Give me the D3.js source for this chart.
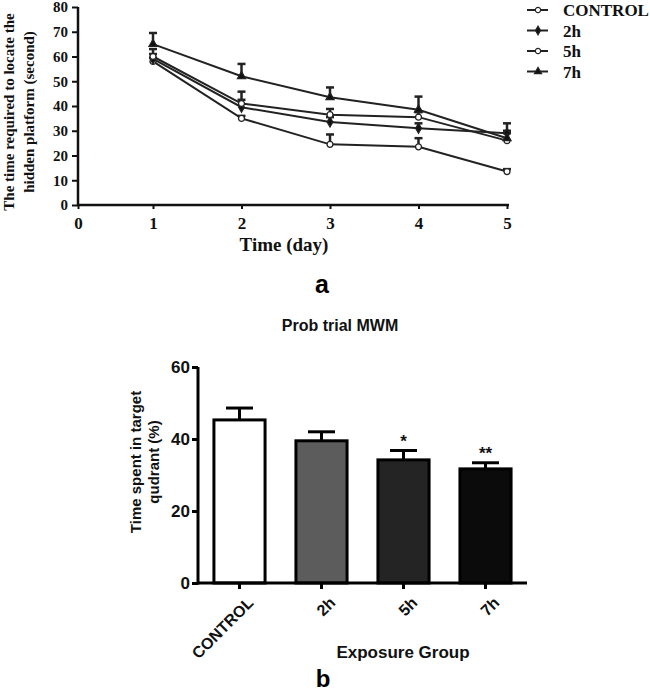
<!DOCTYPE html>
<html><head><meta charset="utf-8">
<script src="https://cdn.jsdelivr.net/npm/d3@7"></script>
<style>body{margin:0;background:#fff}svg{display:block}</style>
</head><body>
<script>
// ---- Data: panel a (learning curve) ----
const days = [1, 2, 3, 4, 5];
const xTicksA = [0, 1, 2, 3, 4, 5];
const yTicksA = [0, 10, 20, 30, 40, 50, 60, 70, 80];
const seriesNames = ["CONTROL", "2h", "5h", "7h"];
const controlVals = [58, 35, 24.5, 23.5, 13.5];
const h2Vals = [59, 39.5, 33.5, 31, 29];
const h5Vals = [60, 41, 36.5, 35.5, 26];
const h7Vals = [65, 52, 43.5, 38.5, 27];
const controlErr = [1.5, 1, 4, 3.5, 1];
const h2Err = [2, 3, 2, 2, 4];
const h5Err = [3, 4.8, 2.3, 2, 3];
const h7Err = [4.5, 5, 4, 5.3, 3];

// ---- Data: panel b (probe trial) ----
const groups = ["CONTROL", "2h", "5h", "7h"];
const probeVals = [45.3, 39.5, 34.2, 31.7];
const probeErr = [3.3, 2.5, 2.6, 1.7];
const probeSig = ["", "", "*", "**"];
const yTicksB = [0, 20, 40, 60];

const W = 650, H = 693;
const svg = d3.select("body").append("svg").attr("width", W).attr("height", H);
const serif = "'Liberation Serif','Times New Roman',serif";
const sans = "'Liberation Sans',Arial,sans-serif";

// ================= Panel a =================
const xA = d3.scaleLinear().domain([0, 1, 5]).range([78, 153, 507]);
const yA = d3.scaleLinear().domain([0, 80]).range([205, 7]);
const gA = svg.append("g");

// axes
const yAxisA = d3.axisLeft(yA).tickValues(yTicksA).tickSize(6).tickPadding(4);
const gyA = gA.append("g").attr("transform", `translate(${xA(0)},0)`).call(yAxisA);
gyA.select(".domain").attr("stroke", "#111").attr("stroke-width", 2.5).attr("d", `M0,${yA(0)}V${yA(80)}`);
gyA.selectAll(".tick line").attr("stroke", "#111").attr("stroke-width", 2);
gyA.selectAll(".tick text").attr("font-family", serif).attr("font-weight", "bold").attr("font-size", 15).attr("fill", "#111");

const xAxisA = d3.axisBottom(xA).tickValues(xTicksA).tickSize(4).tickPadding(8).tickFormat(d3.format("d"));
const gxA = gA.append("g").attr("transform", `translate(0,${yA(0)})`).call(xAxisA);
gxA.select(".domain").attr("stroke", "#111").attr("stroke-width", 2.5).attr("d", `M${xA(0)},0H${xA(5) + 2}`);
gxA.selectAll(".tick line").attr("stroke", "#111").attr("stroke-width", 2);
gxA.selectAll(".tick text").attr("font-family", serif).attr("font-weight", "bold").attr("font-size", 17).attr("fill", "#111");

// axis labels
gA.append("text").attr("transform", `translate(14,112) rotate(-90)`).attr("text-anchor", "middle")
  .attr("font-family", serif).attr("font-weight", "bold").attr("font-size", 15).attr("fill", "#111")
  .text("The time required to locate the");
gA.append("text").attr("transform", `translate(34,112) rotate(-90)`).attr("text-anchor", "middle")
  .attr("font-family", serif).attr("font-weight", "bold").attr("font-size", 15).attr("fill", "#111")
  .text("hidden platform (second)");
gA.append("text").attr("x", 284).attr("y", 251).attr("text-anchor", "middle")
  .attr("font-family", serif).attr("font-weight", "bold").attr("font-size", 19).attr("fill", "#111")
  .text("Time (day)");

const seriesA = [
  {name: "CONTROL", vals: controlVals, err: controlErr, sym: d3.symbolCircle, fill: "#fff"},
  {name: "2h", vals: h2Vals, err: h2Err, sym: d3.symbolDiamond, fill: "#111"},
  {name: "5h", vals: h5Vals, err: h5Err, sym: d3.symbolCircle, fill: "#fff"},
  {name: "7h", vals: h7Vals, err: h7Err, sym: d3.symbolTriangle, fill: "#111"}
];
const line = d3.line().x((d, i) => xA(days[i])).y(d => yA(d));
const lineCol = "#222";

seriesA.forEach(s => {
  gA.append("path").attr("d", line(s.vals)).attr("fill", "none").attr("stroke", lineCol).attr("stroke-width", 2);
});
seriesA.forEach(s => {
  const eg = gA.append("g");
  s.vals.forEach((v, i) => {
    const x = xA(days[i]);
    eg.append("line").attr("x1", x).attr("x2", x).attr("y1", yA(v)).attr("y2", yA(v + s.err[i]))
      .attr("stroke", lineCol).attr("stroke-width", 2.5);
    eg.append("line").attr("x1", x - 4).attr("x2", x + 4).attr("y1", yA(v + s.err[i])).attr("y2", yA(v + s.err[i]))
      .attr("stroke", lineCol).attr("stroke-width", 2.5);
  });
});
seriesA.forEach(s => {
  s.vals.forEach((v, i) => {
    gA.append("path").attr("d", d3.symbol(s.sym, 28)())
      .attr("transform", `translate(${xA(days[i])},${yA(v)})`)
      .attr("fill", s.fill).attr("stroke", lineCol).attr("stroke-width", 1.3);
  });
});

// legend
const legRows = d3.scaleBand().domain(seriesNames).range([0, 82]);
seriesA.forEach(s => {
  const y = 10 + legRows(s.name);
  const lg = svg.append("g").attr("transform", `translate(0,${y})`);
  lg.append("line").attr("x1", 527).attr("x2", 548).attr("y1", 0).attr("y2", 0).attr("stroke", lineCol).attr("stroke-width", 2);
  lg.append("path").attr("d", d3.symbol(s.sym, 22)()).attr("transform", "translate(538,0)")
    .attr("fill", s.fill).attr("stroke", lineCol).attr("stroke-width", 1.2);
  lg.append("text").attr("x", 563).attr("y", 6).attr("font-family", serif).attr("font-weight", "bold")
    .attr("font-size", 17).attr("fill", "#111").text(s.name);
});

svg.append("text").attr("x", 322).attr("y", 293).attr("text-anchor", "middle")
  .attr("font-family", sans).attr("font-weight", "bold").attr("font-size", 25).attr("fill", "#000").text("a");

// ================= Panel b =================
const xB = d3.scaleBand().domain(groups).range([198, 527]).paddingInner(0.34).paddingOuter(0.176);
const yB = d3.scaleLinear().domain([0, 60]).range([583, 367]);
const gB = svg.append("g");
const barFills = ["#ffffff", "#5c5c5c", "#242424", "#0b0b0b"];

svg.append("text").attr("x", 340).attr("y", 331).attr("text-anchor", "middle")
  .attr("font-family", sans).attr("font-weight", "bold").attr("font-size", 16).attr("fill", "#111")
  .text("Prob trial MWM");

// error bars (behind bars)
groups.forEach((g, i) => {
  const cx = xB(g) + xB.bandwidth() / 2;
  const top = yB(probeVals[i] + probeErr[i]);
  gB.append("line").attr("x1", cx).attr("x2", cx).attr("y1", yB(probeVals[i])).attr("y2", top)
    .attr("stroke", "#000").attr("stroke-width", 3);
  gB.append("line").attr("x1", cx - 13.5).attr("x2", cx + 13.5).attr("y1", top).attr("y2", top)
    .attr("stroke", "#000").attr("stroke-width", 3);
  if (probeSig[i]) {
    gB.append("text").attr("x", cx).attr("y", top - 4).attr("text-anchor", "middle")
      .attr("font-family", sans).attr("font-weight", "bold").attr("font-size", 17).attr("fill", "#111")
      .text(probeSig[i]);
  }
});
// bars
groups.forEach((g, i) => {
  gB.append("rect").attr("x", xB(g) + 1.5).attr("y", yB(probeVals[i]))
    .attr("width", xB.bandwidth() - 3).attr("height", yB(0) - yB(probeVals[i]))
    .attr("fill", barFills[i]).attr("stroke", "#000").attr("stroke-width", 3);
});

// axes
const gyB = gB.append("g").attr("transform", "translate(198,0)")
  .call(d3.axisLeft(yB).tickValues(yTicksB).tickSize(6).tickPadding(2));
gyB.select(".domain").attr("stroke", "#000").attr("stroke-width", 3).attr("d", `M0,${yB(0) + 1.5}V${yB(60)}`);
gyB.selectAll(".tick line").attr("stroke", "#000").attr("stroke-width", 3);
gyB.selectAll(".tick text").attr("font-family", sans).attr("font-weight", "bold").attr("font-size", 17).attr("fill", "#111");

const gxB = gB.append("g").attr("transform", `translate(0,${yB(0)})`)
  .call(d3.axisBottom(xB).tickSize(6).tickPadding(2));
gxB.select(".domain").attr("stroke", "#000").attr("stroke-width", 3).attr("d", "M198,0H527");
gxB.selectAll(".tick line").attr("stroke", "#000").attr("stroke-width", 3);
gxB.selectAll(".tick text").attr("font-family", sans).attr("font-weight", "bold").attr("font-size", 16).attr("fill", "#111")
  .attr("text-anchor", "end").attr("dy", "0.7em").attr("transform", "translate(7,13) rotate(-45)").attr("y", 0).attr("x", 0);

gB.append("text").attr("transform", "translate(141,462) rotate(-90)").attr("text-anchor", "middle")
  .attr("font-family", sans).attr("font-weight", "bold").attr("font-size", 15).attr("fill", "#111")
  .text("Time spent in target");
gB.append("text").attr("transform", "translate(159,462) rotate(-90)").attr("text-anchor", "middle")
  .attr("font-family", sans).attr("font-weight", "bold").attr("font-size", 15).attr("fill", "#111")
  .text("qudrant (%)");
gB.append("text").attr("x", 403).attr("y", 658).attr("text-anchor", "middle")
  .attr("font-family", sans).attr("font-weight", "bold").attr("font-size", 17).attr("fill", "#111")
  .text("Exposure Group");
svg.append("text").attr("x", 323).attr("y", 687).attr("text-anchor", "middle")
  .attr("font-family", sans).attr("font-weight", "bold").attr("font-size", 24).attr("fill", "#000").text("b");
</script>
</body></html>
